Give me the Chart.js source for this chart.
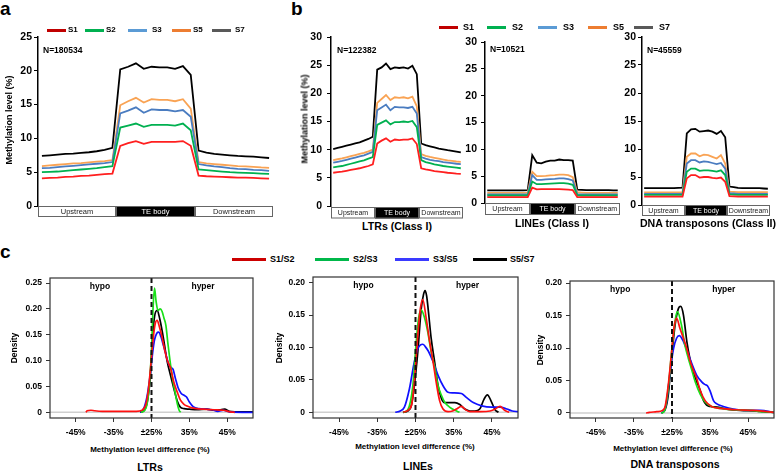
<!DOCTYPE html>
<html>
<head>
<meta charset="utf-8">
<script src="https://cdn.jsdelivr.net/npm/chart.js@4/dist/chart.umd.min.js"></script>
<style>
body { margin: 0; background: #fff; }
#page { position: relative; width: 778px; height: 472px; overflow: hidden; font-family: "Liberation Sans", Arial, sans-serif; color: #000; }
#page canvas { position: absolute; }
.t { position: absolute; font-weight: bold; white-space: nowrap; line-height: 1; }
.leg { position: absolute; height: 3px; }
</style>
</head>
<body>
<div id="page"></div>
<script>
const FONT = '"Liberation Sans", Arial, sans-serif'
Chart.defaults.font.family = FONT

// ---- panels a/b : methylation profile, 10 bins upstream / TE body / downstream ----
const sampleNames = ['S1', 'S2', 'S3', 'S5', 'S7']
const sampleLineColors = ['#ff1f1f', '#00b050', '#4a7cc0', '#f9a354', '#000000']
const sampleLegendColors = ['#c00000', '#00b050', '#5b9bd5', '#ed7d31', '#595959']
const regionLabels = ['Upstream', 'TE body', 'Downstream']
const binsPerRegion = 10
const ticksA = [0, 5, 10, 15, 20, 25]
const ticksB = [0, 5, 10, 15, 20, 25, 30]

// a: all TEs
const aS1 = [4.1, 4.15, 4.2, 4.3, 4.35, 4.45, 4.5, 4.6, 4.7, 4.8, 8.9, 9.3, 9.6, 9.2, 9.5, 9.5, 9.5, 9.5, 9.6, 8.9, 4.5, 4.4, 4.35, 4.3, 4.25, 4.2, 4.2, 4.15, 4.1, 4.05]
const aS2 = [5.0, 5.05, 5.1, 5.2, 5.3, 5.4, 5.5, 5.6, 5.75, 5.9, 11.6, 11.9, 12.2, 11.7, 12.0, 12.0, 12.0, 11.9, 12.2, 11.2, 5.4, 5.3, 5.2, 5.1, 5.0, 4.95, 4.9, 4.85, 4.8, 4.75]
const aS3 = [5.6, 5.65, 5.75, 5.85, 5.95, 6.05, 6.15, 6.25, 6.35, 6.5, 13.7, 14.1, 14.6, 13.8, 14.3, 14.2, 14.2, 14.0, 14.2, 13.2, 6.2, 6.0, 5.85, 5.75, 5.6, 5.5, 5.45, 5.35, 5.3, 5.2]
const aS5 = [5.9, 6.0, 6.1, 6.2, 6.3, 6.35, 6.45, 6.55, 6.65, 6.8, 14.9, 15.5, 16.0, 15.3, 15.8, 15.7, 15.7, 15.5, 15.8, 14.4, 6.5, 6.3, 6.2, 6.1, 6.0, 5.9, 5.85, 5.8, 5.7, 5.65]
const aS7 = [7.4, 7.5, 7.6, 7.7, 7.75, 7.85, 7.95, 8.1, 8.3, 8.6, 20.2, 20.6, 21.1, 20.3, 20.6, 20.5, 20.5, 20.3, 20.7, 19.4, 8.2, 7.9, 7.7, 7.6, 7.5, 7.4, 7.35, 7.3, 7.2, 7.1]

// b: LTRs (Class I)
const ltrS1 = [5.9, 6.0, 6.1, 6.25, 6.4, 6.55, 6.7, 6.9, 7.1, 7.4, 11.1, 11.6, 12.0, 11.4, 11.8, 11.7, 11.8, 11.8, 12.0, 11.0, 6.7, 6.5, 6.35, 6.2, 6.1, 6.0, 5.9, 5.85, 5.75, 5.7]
const ltrS2 = [6.85, 7.0, 7.1, 7.3, 7.5, 7.7, 7.9, 8.1, 8.4, 8.7, 14.4, 14.8, 15.2, 14.5, 14.9, 14.9, 15.0, 14.9, 15.1, 14.0, 8.15, 7.8, 7.6, 7.4, 7.25, 7.1, 7.0, 6.9, 6.8, 6.7]
const ltrS3 = [7.7, 7.85, 8.0, 8.2, 8.4, 8.6, 8.8, 9.0, 9.3, 9.6, 17.0, 17.5, 18.0, 17.0, 17.6, 17.5, 17.5, 17.4, 17.6, 16.4, 8.7, 8.4, 8.2, 8.05, 7.95, 7.8, 7.7, 7.6, 7.5, 7.45]
const ltrS5 = [8.15, 8.3, 8.45, 8.65, 8.85, 9.05, 9.25, 9.45, 9.7, 10.0, 18.3, 19.0, 19.7, 18.8, 19.3, 19.2, 19.3, 19.1, 19.4, 17.7, 9.2, 8.9, 8.7, 8.55, 8.4, 8.25, 8.1, 8.0, 7.9, 7.85]
const ltrS7 = [10.1, 10.3, 10.5, 10.7, 10.9, 11.1, 11.3, 11.6, 11.9, 12.3, 24.2, 24.6, 25.3, 24.3, 24.6, 24.5, 24.6, 24.4, 24.9, 23.4, 11.1, 10.8, 10.6, 10.4, 10.2, 10.05, 9.9, 9.8, 9.65, 9.5]

// b: LINEs (Class I)
const lineS1 = [1.1, 1.1, 1.1, 1.1, 1.1, 1.1, 1.1, 1.1, 1.1, 1.1, 2.85, 2.55, 2.6, 2.6, 2.6, 2.6, 2.6, 2.55, 2.5, 2.4, 1.1, 1.1, 1.1, 1.1, 1.1, 1.1, 1.1, 1.1, 1.1, 1.1]
const lineS2 = [1.4, 1.4, 1.4, 1.4, 1.4, 1.4, 1.4, 1.4, 1.4, 1.4, 4.0, 3.5, 3.5, 3.55, 3.6, 3.65, 3.7, 3.7, 3.6, 3.4, 1.45, 1.4, 1.4, 1.4, 1.4, 1.4, 1.4, 1.4, 1.4, 1.4]
const lineS3 = [1.6, 1.6, 1.6, 1.6, 1.6, 1.6, 1.6, 1.6, 1.6, 1.6, 5.2, 4.3, 4.3, 4.4, 4.45, 4.5, 4.6, 4.6, 4.45, 4.2, 1.65, 1.6, 1.6, 1.6, 1.6, 1.6, 1.6, 1.6, 1.6, 1.6]
const lineS5 = [1.9, 1.9, 1.9, 1.9, 1.9, 1.9, 1.9, 1.9, 1.9, 1.95, 5.8, 5.0, 5.0, 5.05, 5.15, 5.2, 5.3, 5.3, 5.2, 4.8, 2.0, 1.95, 1.9, 1.9, 1.9, 1.9, 1.9, 1.9, 1.9, 1.9]
const lineS7 = [2.35, 2.35, 2.35, 2.35, 2.35, 2.35, 2.35, 2.35, 2.35, 2.4, 8.9, 7.5, 7.4, 7.7, 7.9, 7.9, 8.1, 8.0, 8.0, 7.9, 2.5, 2.45, 2.4, 2.4, 2.4, 2.4, 2.4, 2.4, 2.35, 2.35]

// b: DNA transposons (Class II)
const dnaS1 = [1.5, 1.5, 1.5, 1.5, 1.5, 1.5, 1.5, 1.5, 1.5, 1.5, 4.75, 5.35, 5.35, 4.9, 5.0, 5.0, 4.85, 4.75, 4.9, 4.15, 1.6, 1.55, 1.5, 1.5, 1.5, 1.5, 1.5, 1.5, 1.5, 1.5]
const dnaS2 = [1.8, 1.8, 1.8, 1.8, 1.8, 1.8, 1.8, 1.8, 1.8, 1.8, 5.95, 6.5, 6.5, 6.1, 6.2, 6.2, 6.1, 5.95, 6.2, 5.35, 1.9, 1.85, 1.8, 1.8, 1.8, 1.8, 1.8, 1.8, 1.8, 1.8]
const dnaS3 = [2.0, 2.0, 2.0, 2.0, 2.0, 2.0, 2.0, 2.0, 2.0, 2.0, 7.4, 8.0, 8.0, 7.6, 7.8, 7.7, 7.5, 7.3, 7.5, 6.5, 2.1, 2.05, 2.0, 2.0, 2.0, 2.0, 2.0, 2.0, 2.0, 2.0]
const dnaS5 = [2.25, 2.25, 2.25, 2.25, 2.25, 2.25, 2.25, 2.25, 2.25, 2.3, 8.6, 9.2, 9.2, 8.7, 9.0, 8.9, 8.6, 8.3, 8.9, 7.4, 2.4, 2.35, 2.3, 2.3, 2.3, 2.3, 2.3, 2.3, 2.3, 2.3]
const dnaS7 = [3.0, 3.0, 3.0, 3.0, 3.0, 3.0, 3.0, 3.0, 3.05, 3.1, 12.8, 13.5, 13.6, 13.1, 13.2, 13.3, 13.1, 12.7, 13.2, 12.1, 3.3, 3.2, 3.05, 3.0, 3.0, 3.0, 3.0, 3.0, 2.95, 2.9]

// ---- panel c : density of methylation level difference, [x, density] ----
const pairNames = ['S1/S2', 'S2/S3', 'S3/S5', 'S5/S7']
const pairColors = ['#ff1010', '#19e019', '#1010ff', '#000000']
const pairLegendColors = ['#cc0000', '#00b84a', '#3a3aff', '#000000']
const diffTickValues = [-20, -10, 0, 10, 20]
const diffTickLabels = ['-45%', '-35%', '\u00b125%', '35%', '45%']
const densTicks25 = [0, 0.05, 0.10, 0.15, 0.20, 0.25]
const densTicks20 = [0, 0.05, 0.10, 0.15, 0.20]

const ltrD12 = [[-17.3, 0], [-17, 0.003], [-16, 0.004], [-15, 0.003], [-13, 0.002], [-8, 0.002], [-4, 0.002], [-2.5, 0.004], [-1.5, 0.015], [-0.8, 0.045], [-0.2, 0.09], [0.4, 0.14], [1, 0.172], [1.5, 0.178], [2.1, 0.165], [2.8, 0.145], [3.5, 0.12], [4.2, 0.1], [5, 0.086], [5.9, 0.058], [6.8, 0.039], [7.6, 0.024], [8.5, 0.016], [9.4, 0.012], [11, 0.008], [13.8, 0.006], [16.5, 0.005], [19, 0.004], [20.8, 0.001], [22, 0]]
const ltrD23 = [[-2.8, 0], [-1.8, 0.004], [-1.2, 0.015], [-0.6, 0.05], [0, 0.12], [0.4, 0.2], [0.8, 0.24], [1.2, 0.215], [1.7, 0.197], [2.3, 0.2], [2.8, 0.195], [3.3, 0.182], [3.8, 0.168], [4.3, 0.135], [4.8, 0.105], [5.3, 0.078], [5.8, 0.055], [6.3, 0.036], [6.8, 0.017], [7.3, 0.004], [7.7, 0]]
const ltrD35 = [[-3, 0], [-2.2, 0.005], [-1.2, 0.03], [-0.3, 0.075], [0.3, 0.115], [0.8, 0.14], [1.4, 0.153], [1.9, 0.155], [2.5, 0.146], [3.2, 0.128], [3.8, 0.112], [4.5, 0.094], [5.1, 0.087], [5.7, 0.083], [6.3, 0.066], [7, 0.048], [7.8, 0.037], [8.6, 0.033], [9.2, 0.03], [10, 0.02], [11, 0.011], [12.5, 0.007], [14.5, 0.006], [16, 0.005], [17.5, 0.002], [19, 0.004], [20.5, 0.001], [26.8, 0]]
const ltrD57 = [[-3, 0], [-1.8, 0.005], [-1, 0.025], [-0.3, 0.07], [0.2, 0.136], [0.8, 0.185], [1.5, 0.197], [2.2, 0.18], [2.8, 0.158], [3.4, 0.132], [4.1, 0.1], [5, 0.072], [5.9, 0.046], [6.8, 0.022], [7.6, 0.01], [8.6, 0.007], [10, 0.006], [12, 0.005], [14.6, 0.006], [16.5, 0.004], [18, 0.005], [19.3, 0.006], [20.5, 0.002], [22, 0.001], [26.8, 0.001]]

const lineD12 = [[-3.2, 0], [-2, 0.003], [-1, 0.012], [-0.3, 0.047], [0.6, 0.119], [1.3, 0.161], [1.9, 0.174], [2.8, 0.145], [3.7, 0.109], [4.6, 0.078], [5.4, 0.047], [6.3, 0.018], [7.2, 0.005], [8.5, 0.001], [9.7, 0.002], [10.7, 0.005], [12, 0.009], [13.1, 0.004], [14.2, 0.001], [17, 0.001], [19.5, 0.002], [20.8, 0.005], [22.1, 0.009], [23.3, 0.003], [24.5, 0]]
const lineD23 = [[-3.2, 0], [-2, 0.004], [-0.7, 0.041], [0.2, 0.109], [0.8, 0.145], [1.5, 0.158], [2.4, 0.145], [3.2, 0.124], [4.1, 0.093], [5, 0.07], [5.9, 0.041], [6.8, 0.026], [7.6, 0.016], [8.9, 0.008], [10.3, 0.003], [11.5, 0]]
const lineD35 = [[-5.3, 0], [-4, 0.002], [-2.9, 0.008], [-1.6, 0.036], [-0.3, 0.078], [0.6, 0.098], [1.3, 0.104], [1.9, 0.105], [2.6, 0.101], [3.3, 0.095], [4.6, 0.078], [5.9, 0.057], [7.2, 0.041], [8.5, 0.031], [9.8, 0.03], [12, 0.029], [13.3, 0.023], [15.1, 0.015], [17.3, 0.01], [19.9, 0.008], [22.1, 0.008], [23.9, 0.005], [25.3, 0.002], [26.8, 0.001]]
const lineD57 = [[-3.3, 0], [-2, 0.002], [-1.1, 0.01], [-0.3, 0.041], [0.6, 0.093], [1.5, 0.16], [2.1, 0.182], [2.5, 0.188], [2.9, 0.18], [3.3, 0.16], [4.1, 0.114], [5, 0.078], [5.9, 0.041], [6.8, 0.021], [7.6, 0.015], [8.5, 0.015], [10.3, 0.015], [11.6, 0.012], [12.9, 0.005], [14.2, 0.002], [15.5, 0.002], [16.8, 0.005], [17.9, 0.02], [18.8, 0.027], [19.8, 0.017], [20.8, 0.004], [21.7, 0]]

const dnaD12 = [[-6.8, 0], [-6, 0.001], [-4, 0.002], [-2.5, 0.004], [-1.8, 0.01], [-1, 0.042], [-0.1, 0.094], [0.5, 0.13], [1.2, 0.146], [2.1, 0.13], [3, 0.115], [3.9, 0.099], [4.7, 0.081], [5.6, 0.066], [6.5, 0.053], [7.4, 0.035], [8.7, 0.019], [10.4, 0.01], [12.6, 0.007], [17, 0.005], [21.5, 0.004], [25, 0.002], [26.8, 0.001]]
const dnaD23 = [[-2.8, 0], [-2, 0.003], [-1, 0.037], [-0.1, 0.094], [0.8, 0.141], [1.4, 0.156], [2.5, 0.135], [3.4, 0.104], [4.3, 0.084], [5.2, 0.066], [6.1, 0.048], [7.4, 0.029], [8.7, 0.017], [10.4, 0.01], [12.6, 0.007], [16.1, 0.005], [20.5, 0.004], [24, 0.002], [26.8, 0.001]]
const dnaD35 = [[-2.8, 0], [-2, 0.004], [-1.4, 0.017], [-0.5, 0.063], [0.4, 0.099], [1.2, 0.115], [1.9, 0.119], [3, 0.11], [3.9, 0.097], [5.2, 0.076], [6.5, 0.058], [7.8, 0.048], [8.6, 0.044], [9.3, 0.042], [10, 0.034], [10.9, 0.019], [11.8, 0.014], [13.5, 0.01], [16.1, 0.006], [19.6, 0.004], [23.2, 0.004], [26.8, 0.001]]
const dnaD57 = [[-2.8, 0], [-1.8, 0.005], [-1, 0.027], [-0.1, 0.084], [0.8, 0.135], [1.7, 0.161], [2.3, 0.164], [3, 0.151], [3.9, 0.11], [4.7, 0.084], [5.6, 0.063], [6.5, 0.048], [7.4, 0.035], [8.2, 0.02], [9.1, 0.012], [10, 0.01], [11.8, 0.009], [14.4, 0.006], [17.9, 0.004], [22.3, 0.003], [24, 0.002], [26.8, 0.001]]

const page = document.getElementById('page')

function addText(str, x, base, size, opts = {}) {
    const d = document.createElement('div')
    d.className = 't'
    d.textContent = str
    d.style.fontSize = size + 'px'
    d.style.top = (base - 0.8465 * size) + 'px'
    d.style.left = x + 'px'
    if (opts.center) d.style.transform = 'translateX(-50%)'
    if (opts.normal) d.style.fontWeight = 'normal'
    page.appendChild(d)
}

function addVText(str, cx, cy, size) {
    const d = document.createElement('div')
    d.className = 't'
    d.textContent = str
    d.style.fontSize = size + 'px'
    d.style.left = cx + 'px'
    d.style.top = cy + 'px'
    d.style.transform = 'translate(-50%,-50%) rotate(-90deg)'
    page.appendChild(d)
}

function addLegend(names, colors, lineX, labelX, cy, len, size) {
    names.forEach((n, i) => {
        const l = document.createElement('div')
        l.className = 'leg'
        l.style.left = lineX[i] + 'px'
        l.style.top = (cy - 1.5) + 'px'
        l.style.width = len + 'px'
        l.style.background = colors[i]
        page.appendChild(l)
        addText(n, labelX[i], cy + 0.36 * size, size)
    })
}

// canvas whose chart area lands exactly on plot (page px)
function placeChart(plot, m, config) {
    const c = document.createElement('canvas')
    const w = plot.r - plot.l + m.yW + m.padL + m.padR
    const h = plot.b - plot.t + m.xH + m.padT + m.padB
    c.width = w
    c.height = h
    c.style.left = (plot.l - m.yW - m.padL) + 'px'
    c.style.top = (plot.t - m.padT) + 'px'
    c.style.width = w + 'px'
    c.style.height = h + 'px'
    page.appendChild(c)
    config.options.layout = { padding: { left: m.padL, top: m.padT, right: m.padR, bottom: m.padB } }
    return new Chart(c, config)
}

const fixY = w => s => { s.width = w; s.paddingTop = 0; s.paddingBottom = 0 }
const fixX = h => s => { s.height = h; s.paddingLeft = 0; s.paddingRight = 0 }
const setTicks = vals => s => { s.ticks = vals.map(v => ({ value: v })) }

// Upstream | TE body | Downstream strip under the profile charts
const regionBar = {
    id: 'regionBar',
    afterDraw(chart, args, opts) {
        const { ctx, chartArea: ca, scales: { x } } = chart
        const edges = [x.min, binsPerRegion - 0.5, 2 * binsPerRegion - 0.5, x.max].map(v => Math.round(x.getPixelForValue(v)))
        const y0 = Math.round(ca.bottom + opts.gap)
        const h = opts.height
        ctx.save()
        regionLabels.forEach((lab, i) => {
            const x0 = edges[i], x1 = edges[i + 1]
            ctx.fillStyle = i === 1 ? '#000' : '#fff'
            ctx.fillRect(x0, y0, x1 - x0, h)
            ctx.strokeStyle = '#666'
            ctx.lineWidth = 1
            ctx.strokeRect(x0 + 0.5, y0 + 0.5, x1 - x0 - 1, h - 1)
            ctx.fillStyle = i === 1 ? '#fff' : '#222'
            ctx.font = opts.fontSize + 'px ' + FONT
            ctx.textAlign = 'center'
            ctx.textBaseline = 'middle'
            ctx.fillText(lab, (x0 + x1) / 2, y0 + h / 2 + 0.5)
        })
        ctx.restore()
    }
}

function profileChart(plot, yW, series, yMax, yTicks, labelPad, bar) {
    return placeChart(plot, { yW: yW, xH: 0, padL: 0, padT: 8, padR: 3, padB: bar.gap + bar.height + 2 }, {
        type: 'line',
        data: {
            datasets: series.map((arr, i) => ({
                label: sampleNames[i],
                data: arr.map((v, k) => ({ x: k, y: v })),
                borderColor: sampleLineColors[i],
                borderWidth: 1.8,
                pointRadius: 0,
                tension: 0,
                fill: false
            }))
        },
        options: {
            responsive: false,
            animation: false,
            events: [],
            plugins: { legend: { display: false }, tooltip: { enabled: false }, regionBar: bar },
            scales: {
                x: { type: 'linear', min: -0.5, max: 3 * binsPerRegion - 0.5, display: false, afterFit: fixX(0) },
                y: {
                    min: 0, max: yMax,
                    afterFit: fixY(yW),
                    afterBuildTicks: setTicks(yTicks),
                    ticks: { color: '#000', padding: labelPad, font: { size: 10.5, weight: 'bold' } },
                    grid: { drawOnChartArea: false, drawTicks: true, tickLength: 4, color: '#000', lineWidth: 1 },
                    border: { display: true, color: '#000', width: 1.5 }
                }
            }
        },
        plugins: [regionBar]
    })
}

// frame, zero line, dashed ±25% line and hypo/hyper labels of the density charts
const densityDecor = {
    id: 'densityDecor',
    beforeDatasetsDraw(chart) {
        const { ctx, chartArea: ca, scales: { y } } = chart
        const y0 = y.getPixelForValue(0)
        ctx.save()
        ctx.strokeStyle = '#cfcfcf'
        ctx.lineWidth = 1.5
        ctx.beginPath()
        ctx.moveTo(ca.left, y0)
        ctx.lineTo(ca.right, y0)
        ctx.stroke()
        ctx.restore()
    },
    afterDatasetsDraw(chart) {
        const { ctx, chartArea: ca, scales: { x } } = chart
        const x0 = x.getPixelForValue(0)
        ctx.save()
        ctx.strokeStyle = '#111'
        ctx.lineWidth = 2
        ctx.setLineDash([5, 3])
        ctx.beginPath()
        ctx.moveTo(x0, ca.top)
        ctx.lineTo(x0, ca.bottom)
        ctx.stroke()
        ctx.setLineDash([])
        ctx.strokeStyle = '#333'
        ctx.lineWidth = 1.2
        ctx.strokeRect(ca.left, ca.top, ca.right - ca.left, ca.bottom - ca.top)
        ctx.fillStyle = '#000'
        ctx.font = 'bold 8.5px ' + FONT
        ctx.textAlign = 'center'
        ctx.textBaseline = 'alphabetic'
        ctx.fillText('hypo', x.getPixelForValue(-13.6), ca.top + 11)
        ctx.fillText('hyper', x.getPixelForValue(13.6), ca.top + 11)
        ctx.restore()
    }
}

function densityChart(plot, series, yMin, yMax, yTicks) {
    return placeChart(plot, { yW: 44, xH: 24, padL: 0, padT: 2, padR: 2, padB: 0 }, {
        type: 'line',
        data: {
            datasets: series.map((pts, i) => ({
                label: pairNames[i],
                data: pts.map(p => ({ x: p[0], y: p[1] })),
                borderColor: pairColors[i],
                borderWidth: 1.7,
                pointRadius: 0,
                cubicInterpolationMode: 'monotone',
                fill: false
            }))
        },
        options: {
            responsive: false,
            animation: false,
            events: [],
            plugins: { legend: { display: false }, tooltip: { enabled: false } },
            scales: {
                x: {
                    type: 'linear', min: -26.8, max: 26.8,
                    afterFit: fixX(24),
                    afterBuildTicks: setTicks(diffTickValues),
                    ticks: {
                        color: '#000', padding: 6, maxRotation: 0, autoSkip: false,
                        font: { size: 8.5, weight: 'bold' },
                        callback: v => diffTickLabels[diffTickValues.indexOf(v)]
                    },
                    grid: { drawOnChartArea: false, drawTicks: true, tickLength: 4, color: '#333' },
                    border: { display: false }
                },
                y: {
                    min: yMin, max: yMax,
                    afterFit: fixY(44),
                    afterBuildTicks: setTicks(yTicks),
                    ticks: {
                        color: '#000', padding: 4,
                        font: { size: 8.5, weight: 'bold' },
                        callback: v => v === 0 ? '0' : v.toFixed(2)
                    },
                    grid: { drawOnChartArea: false, drawTicks: true, tickLength: 4, color: '#333' },
                    border: { display: false }
                }
            }
        },
        plugins: [densityDecor]
    })
}

// ---- panel a ----
profileChart({ l: 38, t: 37, r: 273, b: 206 }, 38, [aS1, aS2, aS3, aS5, aS7], 25, ticksA, 2, { gap: 0, height: 11, fontSize: 7.5 })
// ---- panel b ----
profileChart({ l: 331, t: 37, r: 463, b: 206 }, 36, [ltrS1, ltrS2, ltrS3, ltrS5, ltrS7], 30, ticksB, 5, { gap: 0.5, height: 11.5, fontSize: 7 })
profileChart({ l: 485, t: 42, r: 620, b: 203 }, 30, [lineS1, lineS2, lineS3, lineS5, lineS7], 30, ticksB, 4, { gap: 0, height: 12, fontSize: 7 })
profileChart({ l: 642, t: 37, r: 770, b: 205 }, 30, [dnaS1, dnaS2, dnaS3, dnaS5, dnaS7], 30, ticksB, 2, { gap: 0, height: 11, fontSize: 7 })
// ---- panel c ----
densityChart({ l: 50, t: 278, r: 253, b: 418 }, [ltrD12, ltrD23, ltrD35, ltrD57], -0.011, 0.2597, densTicks25)
densityChart({ l: 313, t: 277, r: 518, b: 418 }, [lineD12, lineD23, lineD35, lineD57], -0.0088, 0.2088, densTicks20)
densityChart({ l: 570, t: 281, r: 774, b: 418 }, [dnaD12, dnaD23, dnaD35, dnaD57], -0.0077, 0.2031, densTicks20)

// ---- text ----
addText('a', 0, 15, 19)
addText('b', 291, 15, 19)
addText('c', 0, 258, 19)

addText('N=180534', 43, 53, 8.5)
addText('N=122382', 337, 53, 8.5)
addText('N=10521', 490, 52, 8.5)
addText('N=45559', 647, 53, 8.5)

addVText('Methylation level (%)', 9, 120, 9)
addVText('Methylation level (%)', 305, 119, 9)

addText('LTRs (Class I)', 397, 230, 10.6, { center: true })
addText('LINEs (Class I)', 552, 227, 10.6, { center: true })
addText('DNA transposons (Class II)', 708, 227, 10.6, { center: true })

addLegend(sampleNames, sampleLegendColors, [47, 85, 128, 172, 212], [68, 106, 152, 193, 235], 30, 19, 8)
addLegend(sampleNames, sampleLegendColors, [439, 487, 538, 588, 634], [463, 512, 563, 613, 659], 27, 19, 9)
addLegend(pairNames, pairLegendColors, [232, 315, 395, 473], [270, 353, 433, 510], 259.5, 34, 9)

addText('Methylation level difference (%)', 150, 453, 8, { center: true })
addText('Methylation level difference (%)', 415, 450, 8, { center: true })
addText('Methylation level difference (%)', 673, 452, 8, { center: true })

addVText('Density', 14, 348, 8.5)
addVText('Density', 279, 348, 8.5)
addVText('Density', 540, 350, 8.5)

addText('LTRs', 150, 471, 10.6, { center: true })
addText('LINEs', 418, 470, 10.6, { center: true })
addText('DNA transposons', 675, 468, 10.6, { center: true })
</script>
</body>
</html>
